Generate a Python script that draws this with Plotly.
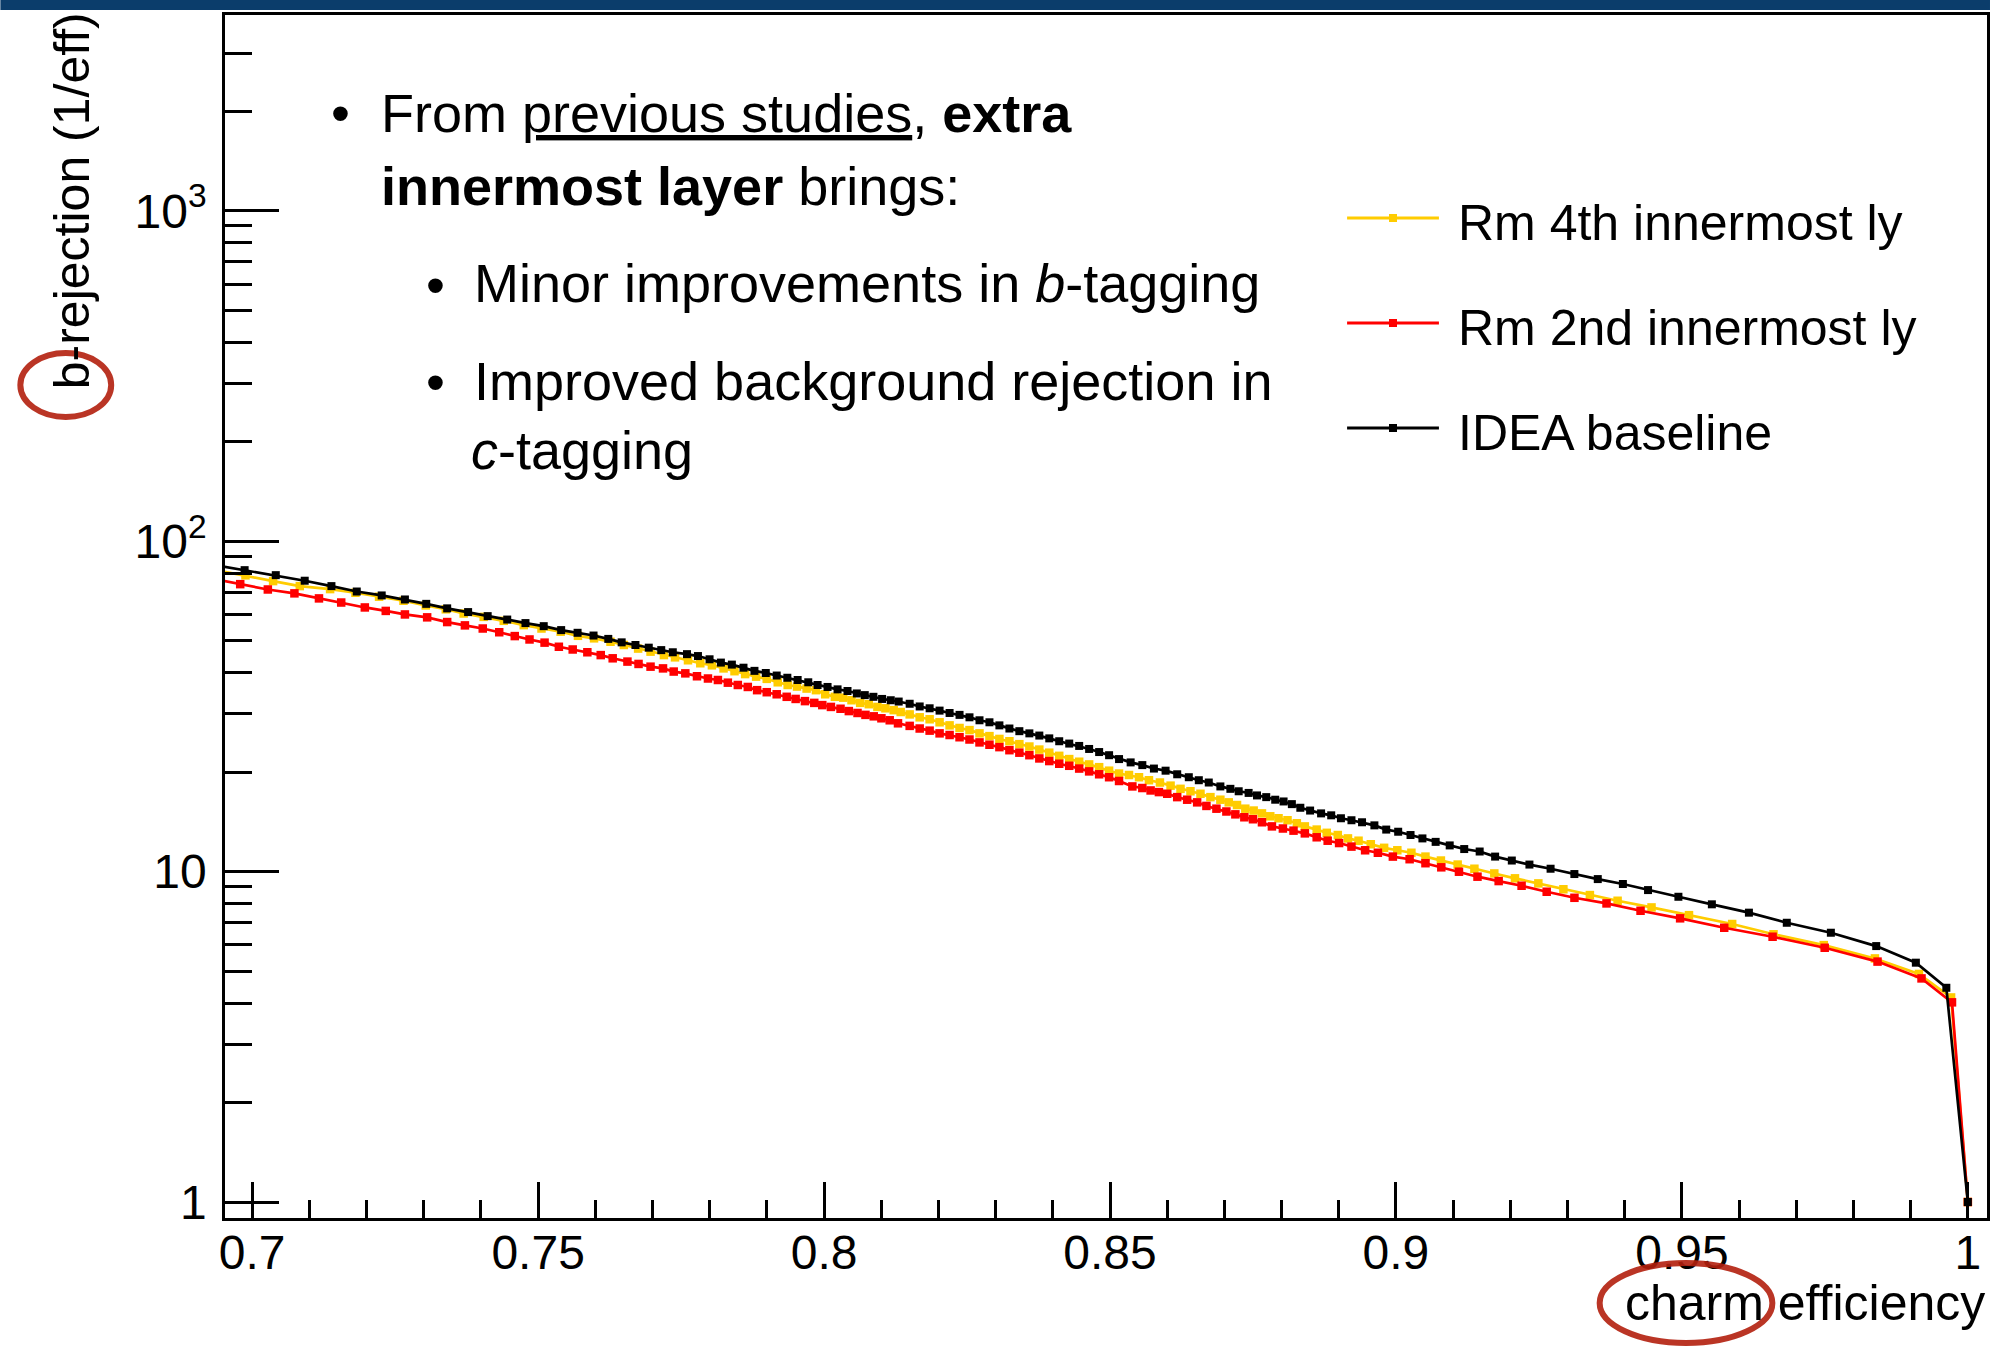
import plotly.graph_objects as go

# ---------------- data ----------------
eff_black = [0.692, 0.69868, 0.70413, 0.70919, 0.71386, 0.71829, 0.72265, 0.72671, 0.73044, 0.7341,
             0.73776, 0.74118, 0.7446, 0.74779, 0.75098, 0.75403, 0.7569, 0.75969, 0.76227, 0.76461,
             0.76702, 0.76935, 0.77153, 0.77355, 0.77603, 0.77795, 0.77998, 0.78196, 0.78388, 0.78591,
             0.78783, 0.78981, 0.79172, 0.79358, 0.79538, 0.79724, 0.79887, 0.80061, 0.80236, 0.8041,
             0.80573, 0.80712, 0.80863, 0.81015, 0.81166, 0.81305, 0.81497, 0.81672, 0.81846, 0.8202,
             0.82195, 0.82369, 0.82543, 0.82718, 0.82892, 0.83066, 0.83241, 0.83415, 0.8359, 0.83764,
             0.83938, 0.84112, 0.84287, 0.84461, 0.84635, 0.8481, 0.84984, 0.85158, 0.85361, 0.85565,
             0.85768, 0.85972, 0.86175, 0.86378, 0.86553, 0.86727, 0.8693, 0.87105, 0.8725, 0.87424,
             0.8757, 0.87732, 0.87889, 0.88035, 0.8818, 0.88328, 0.88499, 0.88691, 0.88868, 0.89038,
             0.89222, 0.89407, 0.89623, 0.8983, 0.90039, 0.90255, 0.90463, 0.90694, 0.9094, 0.91194,
             0.91464, 0.91734, 0.92026, 0.92334, 0.92704, 0.9312, 0.93529, 0.93968, 0.94408, 0.94939,
             0.95524, 0.96172, 0.96834, 0.97605, 0.98398, 0.99091, 0.99624, 1.0]
rej_black = [85.5, 81.7, 78.9, 75.9, 73.1, 70.4, 68.5, 66.6, 64.6, 62.6,
             61.0, 59.3, 57.9, 56.5, 55.3, 53.8, 52.8, 51.8, 50.6, 49.4,
             48.5, 47.6, 46.8, 46.1, 45.5, 44.9, 43.9, 42.9, 42.3, 41.4,
             40.5, 39.9, 39.2, 38.6, 38.0, 37.4, 36.7, 36.2, 35.6, 35.2,
             34.6, 34.2, 33.8, 33.3, 33.0, 32.7, 32.2, 31.6, 31.2, 30.7,
             30.2, 29.8, 29.3, 28.7, 28.3, 27.7, 27.1, 26.6, 26.2, 25.8,
             25.3, 24.8, 24.4, 24.0, 23.5, 23.0, 22.5, 21.9, 21.4, 21.0,
             20.5, 20.2, 19.7, 19.3, 18.9, 18.6, 18.1, 17.8, 17.5, 17.3,
             17.0, 16.8, 16.5, 16.3, 16.0, 15.6, 15.3, 15.0, 14.8, 14.5,
             14.3, 14.1, 13.8, 13.4, 13.2, 12.9, 12.6, 12.3, 12.0, 11.7,
             11.5, 11.1, 10.8, 10.5, 10.2, 9.83, 9.49, 9.17, 8.79, 8.39,
             7.96, 7.51, 7.0, 6.53, 5.95, 5.30, 4.45, 1.0]

eff_yellow = [0.692, 0.69883, 0.70366, 0.70833, 0.71363, 0.71806, 0.72219, 0.72646, 0.73035, 0.73386,
              0.73698, 0.74048, 0.74399, 0.74749, 0.75059, 0.75394, 0.75697, 0.75978, 0.76266, 0.76499,
              0.76749, 0.76966, 0.772, 0.77394, 0.77621, 0.77836, 0.78039, 0.78243, 0.78434, 0.7862,
              0.78812, 0.78998, 0.7919, 0.79364, 0.79527, 0.79695, 0.79858, 0.8002, 0.80189, 0.80335,
              0.8048, 0.80631, 0.80782, 0.80933, 0.81073, 0.81218, 0.8134, 0.81497, 0.81672, 0.81846,
              0.8202, 0.82195, 0.82369, 0.82543, 0.82718, 0.82892, 0.83066, 0.83241, 0.83415, 0.8359,
              0.83764, 0.83938, 0.84112, 0.84287, 0.84461, 0.84635, 0.8481, 0.84984, 0.85158, 0.85332,
              0.85507, 0.85681, 0.85873, 0.86059, 0.86233, 0.86407, 0.86582, 0.86756, 0.8693, 0.87076,
              0.87221, 0.87366, 0.87512, 0.87657, 0.87802, 0.87947, 0.88104, 0.88267, 0.88407, 0.88614,
              0.8879, 0.88983, 0.89161, 0.89346, 0.8956, 0.89793, 0.90024, 0.9027, 0.90516, 0.90786,
              0.91079, 0.91372, 0.9172, 0.92081, 0.9249, 0.92928, 0.93391, 0.93876, 0.94469, 0.95124,
              0.95879, 0.96602, 0.97481, 0.98375, 0.99145, 0.99707, 1.0]
rej_yellow = [82.8, 78.8, 75.7, 73.1, 71.6, 69.8, 67.9, 66.0, 63.9, 62.2,
              60.4, 59.0, 57.4, 55.7, 54.4, 53.2, 51.7, 50.8, 49.6, 48.5,
              47.3, 46.3, 45.2, 44.5, 43.6, 42.7, 42.1, 41.2, 40.4, 39.6,
              38.9, 38.3, 37.4, 36.7, 36.3, 35.8, 35.4, 34.4, 33.8, 33.6,
              33.0, 32.4, 32.1, 31.5, 31.2, 30.8, 30.4, 29.9, 29.3, 28.9,
              28.3, 27.7, 27.2, 26.8, 26.2, 25.7, 25.2, 24.8, 24.3, 23.9,
              23.4, 22.9, 22.4, 21.9, 21.5, 21.1, 20.7, 20.2, 19.8, 19.6,
              19.3, 18.9, 18.6, 18.2, 17.8, 17.5, 17.2, 16.8, 16.5, 16.2,
              15.9, 15.5, 15.3, 15.0, 14.7, 14.5, 14.3, 14.0, 13.7, 13.4,
              13.1, 12.9, 12.6, 12.4, 12.1, 11.8, 11.6, 11.4, 11.1, 10.8,
              10.5, 10.2, 9.87, 9.54, 9.21, 8.84, 8.49, 8.16, 7.79, 7.38,
              6.94, 6.46, 5.99, 5.46, 4.90, 4.16, 1.0]

eff_red = [0.692, 0.69791, 0.70274, 0.70739, 0.71168, 0.71557, 0.7197, 0.72336, 0.72671, 0.7306,
           0.7341, 0.7372, 0.74032, 0.7432, 0.74592, 0.7485, 0.75113, 0.75363, 0.75605, 0.75861,
           0.76095, 0.76304, 0.76562, 0.76756, 0.76966, 0.77184, 0.77371, 0.77574, 0.77778, 0.7797,
           0.78144, 0.78318, 0.78492, 0.78667, 0.78829, 0.78998, 0.79172, 0.79347, 0.79503, 0.79666,
           0.79829, 0.79969, 0.8012, 0.80288, 0.80433, 0.80585, 0.80724, 0.80869, 0.81003, 0.81148,
           0.81293, 0.81497, 0.81672, 0.81846, 0.8202, 0.82195, 0.82369, 0.82543, 0.82718, 0.82892,
           0.83066, 0.83241, 0.83415, 0.8359, 0.83764, 0.83938, 0.84112, 0.84287, 0.84461, 0.84635,
           0.8481, 0.84984, 0.85158, 0.85391, 0.85565, 0.8571, 0.85855, 0.86001, 0.86175, 0.86349,
           0.86524, 0.86686, 0.86861, 0.87035, 0.87192, 0.87349, 0.875, 0.87657, 0.87831, 0.88023,
           0.88209, 0.88407, 0.88614, 0.88806, 0.89006, 0.89222, 0.89461, 0.89684, 0.89946, 0.90239,
           0.90516, 0.90793, 0.91102, 0.91426, 0.91796, 0.92197, 0.92636, 0.93121, 0.93682, 0.94277,
           0.94969, 0.9574, 0.96586, 0.97497, 0.98421, 0.9919, 0.99723, 1.0]
rej_red = [77.7, 74.1, 71.4, 69.5, 67.1, 65.2, 63.0, 61.5, 60.0, 58.8,
           56.9, 55.6, 54.4, 53.0, 51.6, 50.4, 49.3, 47.9, 47.0, 46.1,
           45.2, 44.2, 43.2, 42.5, 41.7, 41.2, 40.3, 39.8, 39.0, 38.4,
           38.0, 37.3, 36.7, 36.2, 35.4, 34.9, 34.4, 33.8, 33.3, 32.8,
           32.4, 31.9, 31.5, 31.1, 30.6, 30.2, 29.8, 29.5, 29.1, 28.7,
           28.1, 27.6, 27.1, 26.7, 26.2, 25.9, 25.5, 25.1, 24.6, 24.2,
           23.8, 23.3, 22.9, 22.5, 22.0, 21.6, 21.2, 20.9, 20.5, 20.1,
           19.7, 19.3, 18.8, 18.1, 17.9, 17.6, 17.4, 17.2, 16.8, 16.5,
           16.2, 15.8, 15.5, 15.2, 14.9, 14.6, 14.4, 14.1, 13.7, 13.5,
           13.3, 13.05, 12.7, 12.4, 12.2, 11.9, 11.6, 11.4, 11.1, 10.9,
           10.6, 10.3, 9.99, 9.65, 9.36, 9.06, 8.69, 8.33, 8.01, 7.61,
           7.22, 6.76, 6.35, 5.88, 5.34, 4.75, 4.02, 1.0]

series_names = ["Rm 4th innermost ly", "Rm 2nd innermost ly", "IDEA baseline"]
series_colors = ["#ffcc00", "#ff0000", "#000000"]

x_major = [0.7, 0.75, 0.8, 0.85, 0.9, 0.95, 1.0]
x_major_text = ["0.7", "0.75", "0.8", "0.85", "0.9", "0.95", "1"]
y_major = [1, 10, 100, 1000]
y_major_text = ["1", "10", "10<sup>2</sup>", "10<sup>3</sup>"]

x_title = "charm efficiency"
y_title = "b-rejection (1/eff)"

bullet_lines = [
    "From <u>previous studies</u>, <b>extra</b>",
    "<b>innermost layer</b> brings:",
    "Minor improvements in <i>b</i>-tagging",
    "Improved background rejection in",
    "<i>c</i>-tagging",
]

# ---------------- layout geometry (pixels) ----------------
W, H = 1993, 1347
ML, MR, MT, MB = 225, 3, 15, 129
PW = W - ML - MR
PH = H - MT - MB
FONT = "Liberation Sans, Arial, Helvetica, sans-serif"


def px(x):
    return (x - ML) / PW


def py(y):
    return (H - MB - y) / PH


fig = go.Figure()

data = [(eff_yellow, rej_yellow), (eff_red, rej_red), (eff_black, rej_black)]
msizes = [8.5, 8.5, 8]
for (ex, ry), name, col, ms in zip(data, series_names, series_colors, msizes):
    fig.add_trace(go.Scatter(
        x=ex, y=ry, mode="lines+markers", name=name,
        line=dict(color=col, width=2.7),
        marker=dict(symbol="square", size=ms, color=col, line=dict(width=0)),
        showlegend=False,
    ))

x_minor = [round(0.70 + 0.01 * i, 2) for i in range(0, 31)]
x_minor = [v for v in x_minor if all(abs(v - m) > 1e-9 for m in x_major)]
y_minor = [m * d for d in (1, 10, 100) for m in range(2, 10)] + [2000, 3000]

fig.update_layout(
    width=W, height=H,
    margin=dict(l=ML, r=MR, t=MT, b=MB, pad=0),
    paper_bgcolor="white", plot_bgcolor="white",
    font=dict(family=FONT, color="black"),
    showlegend=False,
    xaxis=dict(
        range=[0.69525, 1.00335], showgrid=False, zeroline=False,
        showline=True, linecolor="black", linewidth=2.5, mirror=True,
        ticks="inside", ticklen=36, tickwidth=2.5, tickcolor="black",
        tickvals=x_major, ticktext=x_major_text, ticklabelstandoff=-9,
        tickfont=dict(size=48, family=FONT, color="black"),
        minor=dict(ticks="inside", ticklen=18, tickwidth=2.5, tickcolor="black",
                   tickvals=x_minor, showgrid=False),
    ),
    yaxis=dict(
        type="log", range=[-0.0484, 3.5923], showgrid=False, zeroline=False,
        showline=True, linecolor="black", linewidth=2.5, mirror=True,
        ticks="inside", ticklen=54, tickwidth=2.5, tickcolor="black",
        tickvals=y_major, ticktext=y_major_text, ticklabelstandoff=6,
        tickfont=dict(size=48, family=FONT, color="black"),
        minor=dict(ticks="inside", ticklen=27, tickwidth=2.5, tickcolor="black",
                   tickvals=y_minor, showgrid=False),
    ),
)

annotations = []
shapes = []

# top header band of the slide
shapes.append(dict(type="rect", xref="paper", yref="paper",
                   x0=px(0), x1=px(W), y0=py(10), y1=py(0),
                   fillcolor="#0b3d6b", line=dict(width=0), layer="above"))

# axis titles
annotations.append(dict(text=x_title, xref="paper", yref="paper",
                        x=px(1990), y=py(1303), xanchor="right", yanchor="middle",
                        showarrow=False, font=dict(size=50, family=FONT, color="black")))
annotations.append(dict(text=y_title, xref="paper", yref="paper",
                        x=px(72), y=py(201), xanchor="center", yanchor="middle",
                        textangle=-90, showarrow=False,
                        font=dict(size=50, family=FONT, color="black")))

# bullet text block
text_pos = [(379, 113), (379, 186), (472, 283), (472, 381), (469, 450)]
for t, (tx, ty) in zip(bullet_lines, text_pos):
    annotations.append(dict(text=t, xref="paper", yref="paper", x=px(tx), y=py(ty),
                            xanchor="left", yanchor="middle", showarrow=False,
                            font=dict(size=54, family=FONT, color="black")))
for bx, by in [(341, 113), (436, 285), (436, 382)]:
    annotations.append(dict(text="•", xref="paper", yref="paper", x=px(bx), y=py(by),
                            xanchor="center", yanchor="middle", showarrow=False,
                            font=dict(size=54, family=FONT, color="black")))

# legend (ROOT style)
leg_rows = [218, 323, 428]
for name, col, ly in zip(series_names, series_colors, leg_rows):
    shapes.append(dict(type="line", xref="paper", yref="paper",
                       x0=px(1349), x1=px(1441), y0=py(ly), y1=py(ly),
                       line=dict(color=col, width=3)))
    shapes.append(dict(type="rect", xref="paper", yref="paper",
                       x0=px(1391), x1=px(1399), y0=py(ly + 4), y1=py(ly - 4),
                       fillcolor=col, line=dict(width=0)))
    annotations.append(dict(text=name, xref="paper", yref="paper",
                            x=px(1458), y=py(ly + 4.5), xanchor="left", yanchor="middle",
                            showarrow=False, font=dict(size=50, family=FONT, color="black")))

# hand-drawn red circles
for x0, x1, y0, y1 in [(20, 111, 353, 417), (1602, 1775, 1263, 1343)]:
    shapes.append(dict(type="circle", xref="paper", yref="paper",
                       x0=px(x0), x1=px(x1), y0=py(y1), y1=py(y0),
                       line=dict(color="#b3200e", width=6), opacity=0.9))

fig.update_layout(annotations=annotations, shapes=shapes)
fig.write_html("out.html")
